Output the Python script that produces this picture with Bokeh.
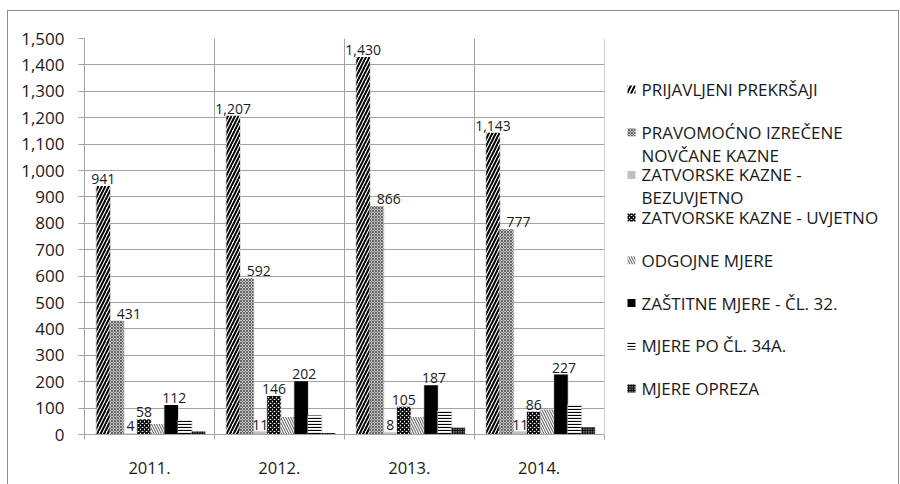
from bokeh.plotting import figure
from bokeh.models import Range1d, FixedTicker, NumeralTickFormatter, ColumnDataSource, Spacer
from bokeh.layouts import row, column
from bokeh.embed import file_html
from bokeh.resources import INLINE
from bokeh.core.properties import value

# ---------------- data ----------------
years = ["2011.", "2012.", "2013.", "2014."]
series_names = [
    "PRIJAVLJENI PREKRŠAJI",
    "PRAVOMOĆNO IZREČENE\nNOVČANE KAZNE",
    "ZATVORSKE KAZNE -\nBEZUVJETNO",
    "ZATVORSKE KAZNE - UVJETNO",
    "ODGOJNE MJERE",
    "ZAŠTITNE MJERE - ČL. 32.",
    "MJERE PO ČL. 34A.",
    "MJERE OPREZA",
]
prijavljeni = [941, 1207, 1430, 1143]
pravomocno = [431, 592, 866, 777]
zatvorske_bezuvjetno = [4, 11, 8, 11]
zatvorske_uvjetno = [58, 146, 105, 86]
odgojne = [40, 66, 66, 95]
zastitne = [112, 202, 187, 227]
mjere_34a = [54, 72, 92, 114]
opreza = [11, 6, 26, 27]
series_values = [prijavljeni, pravomocno, zatvorske_bezuvjetno, zatvorske_uvjetno,
                 odgojne, zastitne, mjere_34a, opreza]
labelled = [True, True, True, True, False, True, False, False]
y_ticks = [0, 100, 200, 300, 400, 500, 600, 700, 800, 900, 1000, 1100, 1200, 1300, 1400, 1500]

# ---------------- styles ----------------
styles = [
    dict(fill_color="white", hatch_pattern="/", hatch_color="black", hatch_scale=7, hatch_weight=2),
    dict(fill_color="#c4c4c4", hatch_pattern="x", hatch_color="#4d4d4d", hatch_scale=3, hatch_weight=0.8),
    dict(fill_color="#c0c0c0", hatch_pattern=None, hatch_color="black", hatch_scale=3, hatch_weight=1),
    dict(fill_color="white", hatch_pattern="x", hatch_color="black", hatch_scale=4, hatch_weight=1.6),
    dict(fill_color="white", hatch_pattern="\\", hatch_color="#222222", hatch_scale=5, hatch_weight=0.8),
    dict(fill_color="black", hatch_pattern=None, hatch_color="black", hatch_scale=3, hatch_weight=1),
    dict(fill_color="white", hatch_pattern="-", hatch_color="black", hatch_scale=3, hatch_weight=1.2),
    dict(fill_color="#6a6a6a", hatch_pattern="+", hatch_color="black", hatch_scale=2.5, hatch_weight=1),
]
label_shift = [0, 12, 0, 0, 0, 3, 0, 0]

FONT = "Open Sans"
TXT = "#1a1a1a"
GRID = "#a3a3a3"

GROUP_PX = 130.0
BAR_PX = 13.6
START_PX = 12.0

TOTAL_W = 890
TOTAL_H = 473
PLOT_W = 601
B_TOP = 27
B_BOTTOM = 50
FRAME_H = TOTAL_H - B_TOP - B_BOTTOM

p = figure(width=PLOT_W, height=TOTAL_H, output_backend="svg", toolbar_location=None,
           x_range=Range1d(0, 4.003), y_range=Range1d(0, 1500),
           min_border_left=76, min_border_top=B_TOP, min_border_bottom=B_BOTTOM, min_border_right=5)
p.outline_line_color = None
p.background_fill_color = "white"
p.border_fill_color = "white"

for i, vals in enumerate(series_values):
    off = (START_PX + BAR_PX * (i + 0.5)) / GROUP_PX
    xs = [g + off for g in range(len(years))]
    src = ColumnDataSource(dict(x=xs, top=vals, lab=[f"{v:,}" for v in vals]))
    st = styles[i]
    # soft shadow
    p.vbar(x="x", top="top", bottom=0, width=(BAR_PX + 2) / GROUP_PX, source=src,
           fill_color="#b5b5b5", fill_alpha=0.45, line_color=None)
    kw = dict(fill_color=st["fill_color"], line_color=None)
    if st["hatch_pattern"]:
        kw.update(hatch_pattern=st["hatch_pattern"], hatch_color=st["hatch_color"],
                  hatch_scale=st["hatch_scale"], hatch_weight=st["hatch_weight"])
    p.vbar(x="x", top="top", bottom=0, width=BAR_PX / GROUP_PX, source=src, **kw)
    if labelled[i]:
        p.text(x="x", y="top", text="lab", source=src, text_align="center",
               text_baseline="bottom", x_offset=label_shift[i], y_offset=-2,
               text_font=value(FONT), text_font_size="14px", text_color=TXT)

# y axis
p.yaxis.ticker = FixedTicker(ticks=y_ticks)
p.yaxis.formatter = NumeralTickFormatter(format="0,0")
p.yaxis.major_tick_in = 0
p.yaxis.major_tick_out = 6
p.yaxis.minor_tick_line_color = None
p.yaxis.major_label_standoff = 14
p.yaxis.axis_line_color = GRID
p.yaxis.major_tick_line_color = GRID
p.yaxis.major_label_text_font = FONT
p.yaxis.major_label_text_font_size = "17px"
p.yaxis.major_label_text_color = TXT

# x axis: labels at group centres, ticks at group boundaries
centres = [g + 0.5 for g in range(len(years))]
bounds = [g for g in range(len(years) + 1)]
p.xaxis.ticker = FixedTicker(ticks=centres, minor_ticks=bounds)
p.xaxis.major_label_overrides = {c: y for c, y in zip(centres, years)}
p.xaxis.major_tick_line_color = None
p.xaxis.major_tick_in = 0
p.xaxis.major_tick_out = 0
p.xaxis.minor_tick_in = 0
p.xaxis.minor_tick_out = 5
p.xaxis.minor_tick_line_color = GRID
p.xaxis.axis_line_color = GRID
p.xaxis.major_label_standoff = 22
p.xaxis.major_label_text_font = FONT
p.xaxis.major_label_text_font_size = "16.5px"
p.xaxis.major_label_text_color = TXT

p.ygrid.ticker = FixedTicker(ticks=y_ticks)
p.ygrid.grid_line_color = GRID
p.xgrid.ticker = FixedTicker(ticks=bounds)
p.xgrid.grid_line_color = GRID

# ---------------- legend panel ----------------
# frame of this panel lines up with the plot frame; its y units are pixels from the frame top
LW = TOTAL_W - PLOT_W
leg = figure(width=LW, height=TOTAL_H, output_backend="svg", toolbar_location=None,
             x_range=Range1d(0, LW), y_range=Range1d(FRAME_H, 0),
             min_border_left=0, min_border_right=0,
             min_border_top=B_TOP, min_border_bottom=B_BOTTOM)
leg.axis.visible = False
leg.grid.visible = False
leg.outline_line_color = None
leg.background_fill_color = "white"
leg.border_fill_color = "white"

BASE_Y = 51.0
STEP_Y = 42.7
LINE_H = 23.0
MARK_X = 22.0
TEXT_X = 32.0
for i, name in enumerate(series_names):
    y0 = BASE_Y + STEP_Y * i
    st = styles[i]
    kw = dict(fill_color=st["fill_color"], line_color=None)
    if st["hatch_pattern"]:
        kw.update(hatch_pattern=st["hatch_pattern"], hatch_color=st["hatch_color"],
                  hatch_scale=st["hatch_scale"] if i else 8, hatch_weight=st["hatch_weight"])
    leg.rect(x=[MARK_X], y=[y0], width=8, height=8, **kw)
    lines = name.split("\n")
    leg.text(x=[TEXT_X] * len(lines), y=[y0 + LINE_H * j for j in range(len(lines))],
             text=lines, text_baseline="middle", text_align="left",
             text_font=value(FONT), text_font_size="17px", text_color=TXT)

BORDER = "1px solid #8c8c8c"
framed = row(p, leg, styles={"border-top": BORDER, "border-left": BORDER, "border-right": BORDER})
layout = column(Spacer(height=10), row(Spacer(width=7), framed))
open("out.html", "w").write(file_html(layout, INLINE))
